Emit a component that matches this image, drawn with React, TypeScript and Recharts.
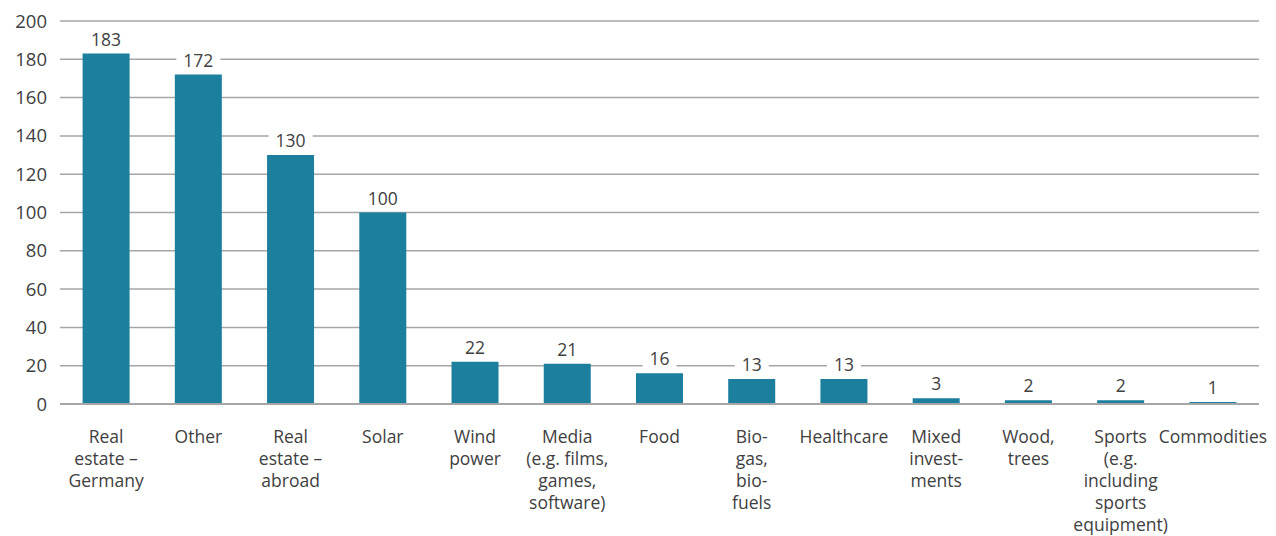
import React from 'react';
import { BarChart, Bar, XAxis, YAxis, CartesianGrid, LabelList } from 'recharts';

const categories = [
  'Real estate – Germany',
  'Other',
  'Real estate – abroad',
  'Solar',
  'Wind power',
  'Media (e.g. films, games, software)',
  'Food',
  'Biogas, biofuels',
  'Healthcare',
  'Mixed investments',
  'Wood, trees',
  'Sports (e.g. including sports equipment)',
  'Commodities',
];

const values = [183, 172, 130, 100, 22, 21, 16, 13, 13, 3, 2, 2, 1];

// wrapped tick labels as they appear under each bar
const tickLines: string[][] = [
  ['Real', 'estate –', 'Germany'],
  ['Other'],
  ['Real', 'estate –', 'abroad'],
  ['Solar'],
  ['Wind', 'power'],
  ['Media', '(e.g. films,', 'games,', 'software)'],
  ['Food'],
  ['Bio-', 'gas,', 'bio-', 'fuels'],
  ['Healthcare'],
  ['Mixed', 'invest-', 'ments'],
  ['Wood,', 'trees'],
  ['Sports', '(e.g.', 'including', 'sports', 'equipment)'],
  ['Commodities'],
];

const yTicks = [0, 20, 40, 60, 80, 100, 120, 140, 160, 180, 200];

const data = categories.map((name, i) => ({ name, value: values[i], idx: i }));

const FONT = '"Open Sans", sans-serif';
const TEXT = '#404040';
const GRID = '#a6a6a6';

const CategoryTick = (props: any) => {
  const { x, y, index } = props;
  const lines = tickLines[index] || [];
  return (
    <text x={x} y={y + 31} textAnchor="middle" fill={TEXT} fontSize={17.5} fontFamily={FONT}>
      {lines.map((l, i) => (
        <tspan key={i} x={x} dy={i === 0 ? 0 : 22}>
          {l}
        </tspan>
      ))}
    </text>
  );
};

const ValueLabel = (props: any) => {
  const { x, y, width, value } = props;
  const cx = x + width / 2;
  const w = String(value).length * 10 + 14;
  return (
    <g>
      <rect x={cx - w / 2} y={y - 26} width={w} height={22} fill="#fff" />
      <text x={cx} y={y - 8} textAnchor="middle" fill={TEXT} fontSize={17.5} fontFamily={FONT}>
        {value}
      </text>
    </g>
  );
};

export default function App() {
  return (
    <div style={{ position: 'absolute', left: 0, top: 0, background: '#fff' }}>
      <BarChart
        width={1276}
        height={536}
        data={data}
        margin={{ top: 21, right: 17, left: 0, bottom: 0 }}
        barCategoryGap="24.5%"
      >
        <CartesianGrid vertical={false} stroke={GRID} strokeWidth={1.5} />
        <XAxis
          dataKey="name"
          interval={0}
          height={132}
          tickLine={false}
          axisLine={{ stroke: GRID, strokeWidth: 2 }}
          tick={<CategoryTick />}
        />
        <YAxis
          width={60}
          domain={[0, 200]}
          ticks={yTicks}
          tickLine={false}
          axisLine={false}
          tickSize={0}
          tickMargin={13}
          tick={{ fill: TEXT, fontSize: 18.5, fontFamily: FONT }}
        />
        <Bar dataKey="value" fill="#1b7f9d" isAnimationActive={false}>
          <LabelList dataKey="value" content={<ValueLabel />} />
        </Bar>
      </BarChart>
    </div>
  );
}
